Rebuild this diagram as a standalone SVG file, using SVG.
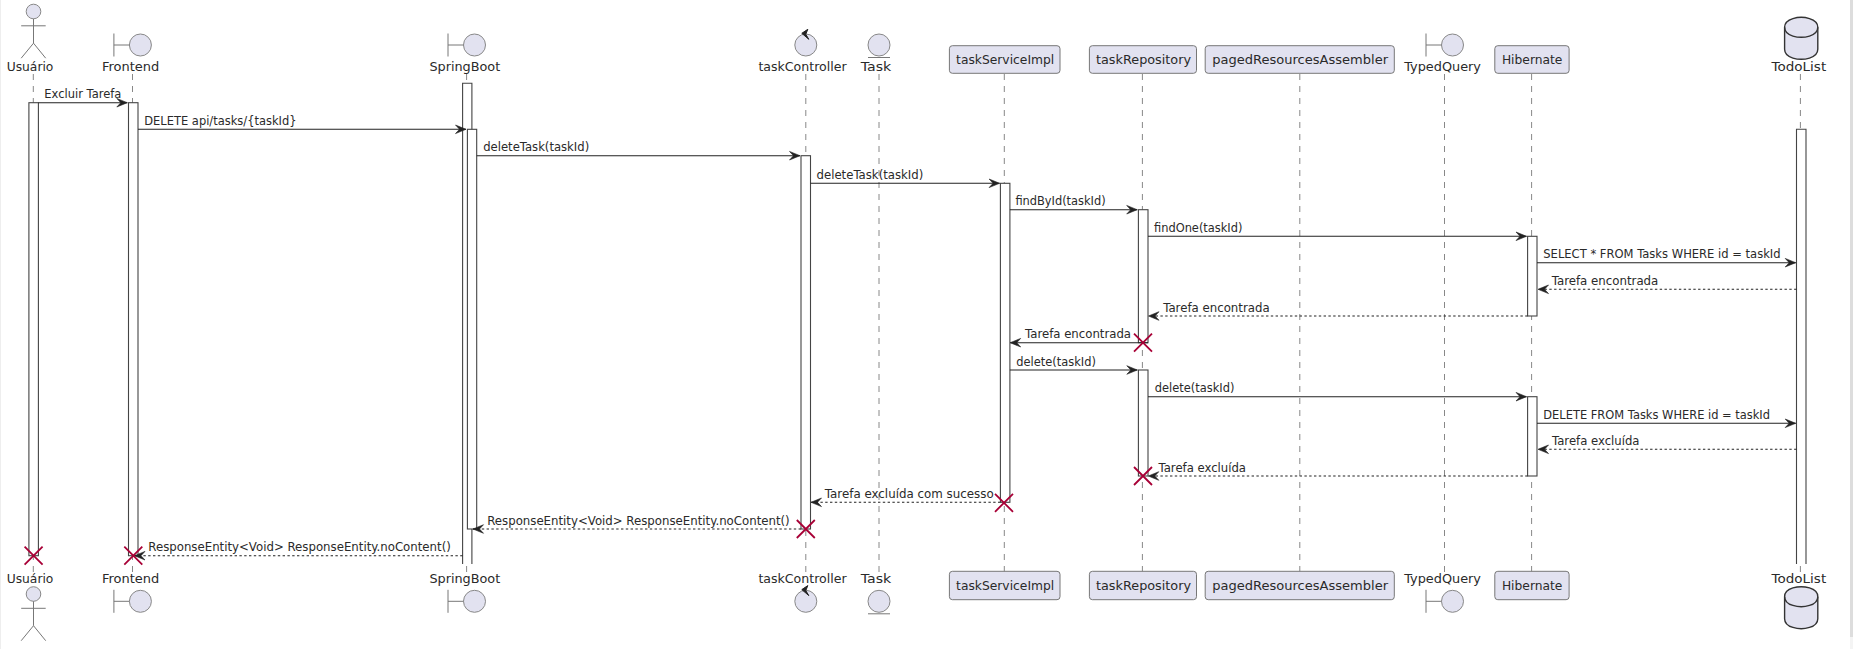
<svg xmlns="http://www.w3.org/2000/svg" width="1853" height="649" viewBox="0 0 1853 649">
<style>
.bg{fill:#fff}
text{font-family:"DejaVu Sans",sans-serif;fill:#2a2a2a}
.n{font-size:13px}
.m{font-size:12px}
.ll{stroke:#888;stroke-width:1;stroke-dasharray:6 6;fill:none}
.act{fill:#fff;stroke:#444;stroke-width:1.1}
.pb{fill:#E2E2F0;stroke:#777;stroke-width:1}
.ic{fill:#E2E2F0;stroke:#888;stroke-width:1}
.il{fill:none;stroke:#777;stroke-width:1}
.db{fill:#E2E2F0;stroke:#333;stroke-width:1.4}
.c{fill:none;stroke:#222;stroke-width:1.1}
.d{stroke-dasharray:2.4 2.4}
.x{stroke:#A80036;stroke-width:1.8;fill:none}
.ah{fill:#222;stroke:#222;stroke-width:.6}
</style>
<defs>
<marker id="a" markerUnits="userSpaceOnUse" markerWidth="14" markerHeight="12" refX="12" refY="6" orient="auto"><path class="ah" d="M1.5 1.7L12 6L1.5 10.3L5.5 6Z"/></marker>
<g id="actor"><circle class="ic" cx="33.5" cy="11.5" r="7.3"/><path class="il" d="M33.5 18.8V43.2M21.2 25.8H45.7M21.2 58.2L33.5 43.2L45.7 58.2"/></g>
<g id="bnd"><circle class="ic" cx="11" cy="0" r="11"/><path class="il" d="M-15.5 -11.5V11.5M-15.5 0H0"/></g>
<g id="ctl"><circle class="ic" cx="0" cy="0" r="11"/><path class="ah" style="stroke-width:1" d="M-4 -11.7L2 -15.7L0 -10.7L3 -5.7Z"/></g>
<g id="ent"><circle class="ic" cx="0" cy="0" r="11"/><path class="il" d="M-11 12.5H11"/></g>
<g id="dbi"><path class="db" d="M-16.6 10C-16.6 0 0 0 0 0C0 0 16.6 0 16.6 10V32C16.6 42 0 42 0 42C0 42 -16.6 42 -16.6 32Z"/><path class="db" style="fill:none" d="M-16.6 10C-16.6 20 0 20 0 20C0 20 16.6 20 16.6 10"/></g>
</defs>
<rect class="bg" width="1853" height="649"/>
<rect x="0" y="0" width="1" height="649" fill="#eee"/>
<rect x="1850" y="0" width="3" height="637" fill="#ddd"/>
<rect x="1850" y="637" width="3" height="12" fill="#f4f4f4"/>
<g id="lifelines">
<path class="ll" d="M33.3 74V572M132.5 74V572M466.6 74V572M805.8 74V572M879 74V572M1004.3 74V572M1142.4 74V572M1299.8 74V572M1444.5 74V572M1531.6 74V572M1800.4 74V572"/>
</g>
<g id="activations">
<rect class="act" x="28.9" y="102.7" width="9.5" height="453"/>
<rect class="act" x="128.5" y="102.7" width="9.5" height="453"/>
<path class="act" d="M462.6 564V83.3H471.9V564"/>
<rect class="act" x="467.4" y="129.3" width="9.3" height="399.7"/>
<rect class="act" x="801" y="155.7" width="9.5" height="373.3"/>
<rect class="act" x="1000.4" y="183.3" width="9.5" height="319"/>
<rect class="act" x="1138.4" y="209.7" width="9.6" height="133"/>
<rect class="act" x="1138.4" y="370" width="9.6" height="106"/>
<rect class="act" x="1527.6" y="236.3" width="9.4" height="79.7"/>
<rect class="act" x="1527.6" y="396.7" width="9.4" height="79.3"/>
<path class="act" d="M1796.5 564V129.3H1806V564"/>
</g>
<g id="connectors">
<path class="c" marker-end="url(#a)" d="M38.4 102.7H127.3"/>
<path class="c" marker-end="url(#a)" d="M138 129.3H466"/>
<path class="c" marker-end="url(#a)" d="M476.7 155.7H800"/>
<path class="c" marker-end="url(#a)" d="M810.5 183.3H999.6"/>
<path class="c" marker-end="url(#a)" d="M1009.9 209.7H1137.2"/>
<path class="c" marker-end="url(#a)" d="M1148 236.3H1526.5"/>
<path class="c" marker-end="url(#a)" d="M1537 262.7H1795.7"/>
<path class="c d" marker-end="url(#a)" d="M1796.5 289.3H1538"/>
<path class="c d" marker-end="url(#a)" d="M1527.6 316H1148.5"/>
<path class="c" marker-end="url(#a)" d="M1148 342.7H1010.2"/>
<path class="c" marker-end="url(#a)" d="M1009.9 370H1137.3"/>
<path class="c" marker-end="url(#a)" d="M1148 396.7H1526.5"/>
<path class="c" marker-end="url(#a)" d="M1537 423.3H1795.7"/>
<path class="c d" marker-end="url(#a)" d="M1796.5 449.3H1538"/>
<path class="c d" marker-end="url(#a)" d="M1527.6 476H1148.3"/>
<path class="c d" marker-end="url(#a)" d="M1000.4 502.3H811"/>
<path class="c d" marker-end="url(#a)" d="M801 529H473"/>
<path class="c d" marker-end="url(#a)" d="M462.6 555.7H134.5"/>
<path class="x" d="M24.6 546.7L42.6 564.7M42.6 546.7L24.6 564.7"/>
<path class="x" d="M124.3 546.7L142.3 564.7M142.3 546.7L124.3 564.7"/>
<path class="x" d="M796.8 520L814.8 538M814.8 520L796.8 538"/>
<path class="x" d="M995 493.8L1013 511.8M1013 493.8L995 511.8"/>
<path class="x" d="M1134 333.7L1152 351.7M1152 333.7L1134 351.7"/>
<path class="x" d="M1134 467L1152 485M1152 467L1134 485"/>
</g>
<g id="messages" class="m">
<text x="44.3" y="98.2" textLength="77" lengthAdjust="spacingAndGlyphs">Excluir Tarefa</text>
<text x="144.3" y="124.8" textLength="152.2" lengthAdjust="spacingAndGlyphs">DELETE api/tasks/{taskId}</text>
<text x="483.2" y="151.2" textLength="106" lengthAdjust="spacingAndGlyphs">deleteTask(taskId)</text>
<text x="816.5" y="178.8" textLength="106.8" lengthAdjust="spacingAndGlyphs">deleteTask(taskId)</text>
<text x="1015.4" y="205.2" textLength="90.2" lengthAdjust="spacingAndGlyphs">findById(taskId)</text>
<text x="1154" y="231.8" textLength="88.4" lengthAdjust="spacingAndGlyphs">findOne(taskId)</text>
<text x="1543.3" y="258" textLength="237.3" lengthAdjust="spacingAndGlyphs">SELECT * FROM Tasks WHERE id = taskId</text>
<text x="1551.7" y="284.8" textLength="106.6" lengthAdjust="spacingAndGlyphs">Tarefa encontrada</text>
<text x="1163.2" y="311.5" textLength="106.4" lengthAdjust="spacingAndGlyphs">Tarefa encontrada</text>
<text x="1025" y="338.2" textLength="106" lengthAdjust="spacingAndGlyphs">Tarefa encontrada</text>
<text x="1016.3" y="365.5" textLength="79.6" lengthAdjust="spacingAndGlyphs">delete(taskId)</text>
<text x="1154.8" y="392.2" textLength="79.6" lengthAdjust="spacingAndGlyphs">delete(taskId)</text>
<text x="1543.3" y="418.6" textLength="226.7" lengthAdjust="spacingAndGlyphs">DELETE FROM Tasks WHERE id = taskId</text>
<text x="1552" y="444.8" textLength="87.5" lengthAdjust="spacingAndGlyphs">Tarefa excluída</text>
<text x="1158.5" y="471.5" textLength="87.5" lengthAdjust="spacingAndGlyphs">Tarefa excluída</text>
<text x="824.8" y="497.8" textLength="168.9" lengthAdjust="spacingAndGlyphs">Tarefa excluída com sucesso</text>
<text x="487.2" y="524.5" textLength="302.5" lengthAdjust="spacingAndGlyphs">ResponseEntity&lt;Void&gt; ResponseEntity.noContent()</text>
<text x="148.3" y="551.2" textLength="302.5" lengthAdjust="spacingAndGlyphs">ResponseEntity&lt;Void&gt; ResponseEntity.noContent()</text>
</g>
<g id="n-usuario"><use href="#actor"/><use href="#actor" y="582.5"/><text class="n" x="6.7" y="71" textLength="46.7" lengthAdjust="spacingAndGlyphs">Usuário</text><text class="n" x="6.7" y="583.3" textLength="46.7" lengthAdjust="spacingAndGlyphs">Usuário</text></g>
<g id="n-frontend"><use href="#bnd" x="129.4" y="45"/><use href="#bnd" x="129.4" y="601.3"/><text class="n" x="102" y="71" textLength="57.3" lengthAdjust="spacingAndGlyphs">Frontend</text><text class="n" x="102" y="583.3" textLength="57.3" lengthAdjust="spacingAndGlyphs">Frontend</text></g>
<g id="n-springboot"><use href="#bnd" x="463.5" y="45"/><use href="#bnd" x="463.5" y="601.3"/><text class="n" x="429.4" y="71" textLength="70.8" lengthAdjust="spacingAndGlyphs">SpringBoot</text><text class="n" x="429.4" y="583.3" textLength="70.8" lengthAdjust="spacingAndGlyphs">SpringBoot</text></g>
<g id="n-taskcontroller"><use href="#ctl" x="805.8" y="45"/><use href="#ctl" x="805.8" y="601.3"/><text class="n" x="758.4" y="71" textLength="88.2" lengthAdjust="spacingAndGlyphs">taskController</text><text class="n" x="758.4" y="583.3" textLength="88.2" lengthAdjust="spacingAndGlyphs">taskController</text></g>
<g id="n-task"><use href="#ent" x="879" y="45"/><use href="#ent" x="879" y="601.3"/><text class="n" x="860.8" y="71" textLength="30.5" lengthAdjust="spacingAndGlyphs">Task</text><text class="n" x="860.8" y="583.3" textLength="30.5" lengthAdjust="spacingAndGlyphs">Task</text></g>
<g id="n-taskserviceimpl"><rect class="pb" x="949.4" y="45.7" width="110.6" height="27.6" rx="3"/><rect class="pb" x="949.4" y="571.3" width="110.6" height="28.4" rx="3"/><text class="n" x="956.1" y="64" textLength="98.1" lengthAdjust="spacingAndGlyphs">taskServiceImpl</text><text class="n" x="956.1" y="590" textLength="98.1" lengthAdjust="spacingAndGlyphs">taskServiceImpl</text></g>
<g id="n-taskrepository"><rect class="pb" x="1089.4" y="45.7" width="107.1" height="27.6" rx="3"/><rect class="pb" x="1089.4" y="571.3" width="107.1" height="28.4" rx="3"/><text class="n" x="1096" y="64" textLength="95" lengthAdjust="spacingAndGlyphs">taskRepository</text><text class="n" x="1096" y="590" textLength="95" lengthAdjust="spacingAndGlyphs">taskRepository</text></g>
<g id="n-pagedresourcesassembler"><rect class="pb" x="1205.2" y="45.7" width="189.1" height="27.6" rx="3"/><rect class="pb" x="1205.2" y="571.3" width="189.1" height="28.4" rx="3"/><text class="n" x="1212.3" y="64" textLength="175.7" lengthAdjust="spacingAndGlyphs">pagedResourcesAssembler</text><text class="n" x="1212.3" y="590" textLength="175.7" lengthAdjust="spacingAndGlyphs">pagedResourcesAssembler</text></g>
<g id="n-typedquery"><use href="#bnd" x="1441.5" y="45"/><use href="#bnd" x="1441.5" y="601.3"/><text class="n" x="1404.2" y="71" textLength="76.8" lengthAdjust="spacingAndGlyphs">TypedQuery</text><text class="n" x="1404.2" y="583.3" textLength="76.8" lengthAdjust="spacingAndGlyphs">TypedQuery</text></g>
<g id="n-hibernate"><rect class="pb" x="1494.8" y="45.7" width="74.3" height="27.6" rx="3"/><rect class="pb" x="1494.8" y="571.3" width="74.3" height="28.4" rx="3"/><text class="n" x="1501.9" y="64" textLength="60.5" lengthAdjust="spacingAndGlyphs">Hibernate</text><text class="n" x="1501.9" y="590" textLength="60.5" lengthAdjust="spacingAndGlyphs">Hibernate</text></g>
<g id="n-todolist"><use href="#dbi" x="1801.2" y="17.3"/><use href="#dbi" x="1801.2" y="586.7"/><text class="n" x="1771.6" y="71" textLength="54.6" lengthAdjust="spacingAndGlyphs">TodoList</text><text class="n" x="1771.6" y="583.3" textLength="54.6" lengthAdjust="spacingAndGlyphs">TodoList</text></g>
</svg>
